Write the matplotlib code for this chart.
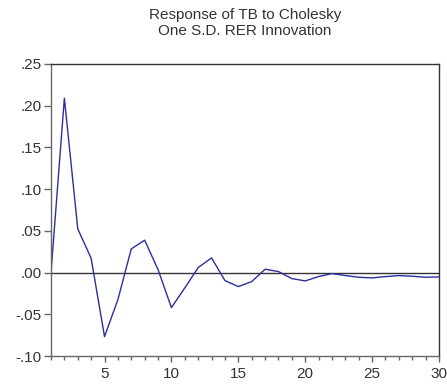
import matplotlib
matplotlib.use("Agg")
import matplotlib.pyplot as plt
from matplotlib.ticker import FixedLocator, FuncFormatter, MultipleLocator

plt.rcParams['font.family'] = ['Liberation Sans', 'DejaVu Sans']

periods = list(range(1, 31))
response = [0.0, 0.209, 0.0524, 0.0172, -0.0768, -0.0324, 0.0284, 0.0388, 0.0036, -0.042,
            -0.0184, 0.006, 0.0176, -0.0096, -0.0168, -0.0108, 0.004, 0.0012, -0.0072, -0.010,
            -0.0048, -0.0012, -0.0036, -0.0056, -0.0064, -0.0048, -0.0036, -0.0044, -0.0056, -0.0052]
x_ticks = [5, 10, 15, 20, 25, 30]
y_ticks = [-0.10, -0.05, 0.00, 0.05, 0.10, 0.15, 0.20, 0.25]
title_text = "Response of TB to Cholesky\nOne S.D. RER Innovation"

fig = plt.figure(figsize=(4.47, 3.85), dpi=100)
ax = fig.add_axes([51 / 447, 1 - 356 / 385, 388 / 447, 292 / 385])

ax.axhline(0, color='#333333', lw=1.0, zorder=1)
ax.plot(periods, response, color='#2b2f9c', lw=1.0, zorder=2)

ax.set_xlim(1, 30)
ax.set_ylim(-0.10, 0.25)
ax.xaxis.set_major_locator(FixedLocator(x_ticks))
ax.xaxis.set_minor_locator(MultipleLocator(1))
ax.yaxis.set_major_locator(FixedLocator(y_ticks))


def fmt(v, pos):
    s = f"{v:.2f}"
    return s.replace("0.", ".", 1)


ax.yaxis.set_major_formatter(FuncFormatter(fmt))

for side in ('left', 'bottom'):
    ax.spines[side].set_color('#666666')
    ax.spines[side].set_linewidth(1.0)
for side in ('top', 'right'):
    ax.spines[side].set_color('#333333')
    ax.spines[side].set_linewidth(1.0)

ax.tick_params(axis='both', which='both', direction='out', color='#666666',
               labelcolor='#333333', labelsize=11, width=1.0)
ax.tick_params(axis='x', which='major', length=4, pad=4)
ax.tick_params(axis='x', which='minor', length=3)
ax.tick_params(axis='y', which='major', length=5, pad=1.5)

fig.text(245 / 447, 1 - 8 / 385, title_text, ha='center', va='top',
         fontsize=11, color='#333333', linespacing=1.2)

fig.savefig("out.png", dpi=100)
